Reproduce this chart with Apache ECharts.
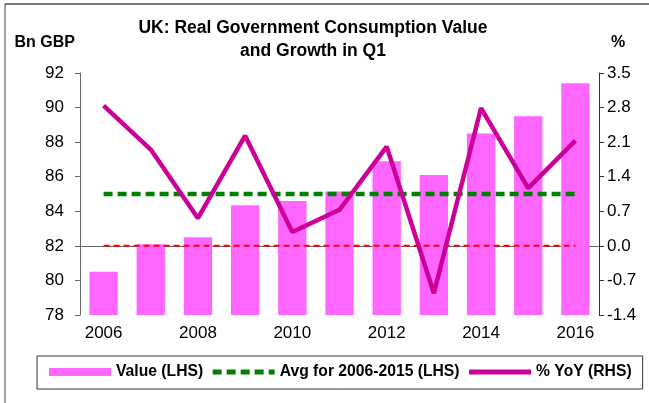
<!DOCTYPE html>
<html>
<head>
<meta charset="utf-8">
<script src="https://cdn.jsdelivr.net/npm/echarts@6/dist/echarts.min.js"></script>
<style>
  html, body { margin: 0; padding: 0; background: #fff; }
  #chart { width: 649px; height: 403px; }
</style>
</head>
<body>
<div id="chart"></div>
<script>
  var years = ["2006", "2007", "2008", "2009", "2010", "2011", "2012", "2013", "2014", "2015", "2016"];
  var valueBn = [80.5, 82.1, 82.5, 84.35, 84.6, 85.15, 86.9, 86.1, 88.5, 89.5, 91.4];
  var avgBn = [85, 85, 85, 85, 85, 85, 85, 85, 85, 85, 85];
  var yoyPct = [2.84, 1.95, 0.56, 2.23, 0.28, 0.73, 2.01, -0.96, 2.79, 1.17, 2.13];
  var zeroPct = [0, 0, 0, 0, 0, 0, 0, 0, 0, 0, 0];

  var font = "Liberation Sans, Arial, sans-serif";

  var myChart = echarts.init(document.getElementById("chart"));
  var option = {
    backgroundColor: "#fff",
    animation: false,
    textStyle: { fontFamily: font, color: "#000" },
    title: {
      text: "UK: Real Government Consumption Value\nand Growth in Q1",
      left: 308,
      top: 12,
      textAlign: "center",
      textStyle: { fontSize: 17.5, fontWeight: "bold", color: "#000", lineHeight: 23, fontFamily: font }
    },
    legend: {
      left: 37,
      top: 356,
      width: 620,
      padding: [8, 11, 9, 12],
      borderColor: "#333",
      borderWidth: 1,
      itemWidth: 62,
      itemHeight: 8,
      itemGap: 7,
      textStyle: { fontSize: 15.7, fontWeight: "bold", color: "#000", fontFamily: font },
      data: [
        { name: "Value (LHS)", icon: "rect" },
        {
          name: "Avg for 2006-2015 (LHS)",
          itemStyle: { opacity: 0 },
          lineStyle: { width: 5, type: [9, 5], color: "#008000" }
        },
        {
          name: "% YoY (RHS)",
          itemStyle: { opacity: 0 },
          lineStyle: { width: 5, color: "#CC0099" }
        }
      ]
    },
    grid: { left: 80, right: 50, top: 73, bottom: 88 },
    xAxis: {
      type: "category",
      data: years,
      axisLine: { lineStyle: { color: "#666", width: 1 } },
      axisTick: { interval: 0, length: 5, lineStyle: { color: "#666" } },
      axisLabel: { interval: 1, fontSize: 17, color: "#000", margin: 10 }
    },
    yAxis: [
      {
        type: "value",
        min: 78,
        max: 92,
        interval: 2,
        name: "Bn GBP",
        nameLocation: "end",
        nameGap: 22,
        nameTextStyle: { fontSize: 16, fontWeight: "bold", color: "#000", align: "right", padding: [0, 5, 0, 0] },
        splitLine: { show: false },
        axisLine: { show: true, lineStyle: { color: "#666" } },
        axisTick: { show: true, length: 5, lineStyle: { color: "#666" } },
        axisLabel: { fontSize: 17, color: "#000", margin: 16 }
      },
      {
        type: "value",
        min: -1.4,
        max: 3.5,
        interval: 0.7,
        name: "%",
        nameLocation: "end",
        nameGap: 22,
        nameTextStyle: { fontSize: 16, fontWeight: "bold", color: "#000", align: "left", padding: [0, 0, 0, 12] },
        splitLine: { show: false },
        axisLine: { show: true, lineStyle: { color: "#333" } },
        axisTick: { show: true, length: 5, lineStyle: { color: "#333" } },
        axisLabel: {
          fontSize: 17, color: "#000", margin: 8,
          formatter: function (v) {
            if (Math.abs(v) < 1e-9) v = 0;
            return v.toFixed(1);
          }
        }
      }
    ],
    series: [
      {
        name: "Value (LHS)",
        type: "bar",
        data: valueBn,
        barWidth: "60%",
        itemStyle: { color: "#FF66FF" }
      },
      {
        name: "zero",
        type: "line",
        yAxisIndex: 1,
        data: zeroPct,
        symbol: "none",
        lineStyle: { color: "#FF0000", width: 2, type: [6, 4] }
      },
      {
        name: "Avg for 2006-2015 (LHS)",
        type: "line",
        data: avgBn,
        symbol: "none",
        lineStyle: { color: "#008000", width: 4.5, type: [9, 5] },
        itemStyle: { color: "#008000" }
      },
      {
        name: "% YoY (RHS)",
        type: "line",
        yAxisIndex: 1,
        data: yoyPct,
        symbol: "none",
        lineStyle: { color: "#CC0099", width: 4.5 },
        itemStyle: { color: "#CC0099" }
      }
    ],
    graphic: [
      { type: "line", shape: { x1: 5, y1: 4, x2: 649, y2: 4 }, style: { stroke: "#777", lineWidth: 2 } },
      { type: "line", shape: { x1: 5, y1: 4, x2: 5, y2: 403 }, style: { stroke: "#444", lineWidth: 1 } }
    ]
  };
  myChart.setOption(option);
</script>
</body>
</html>
